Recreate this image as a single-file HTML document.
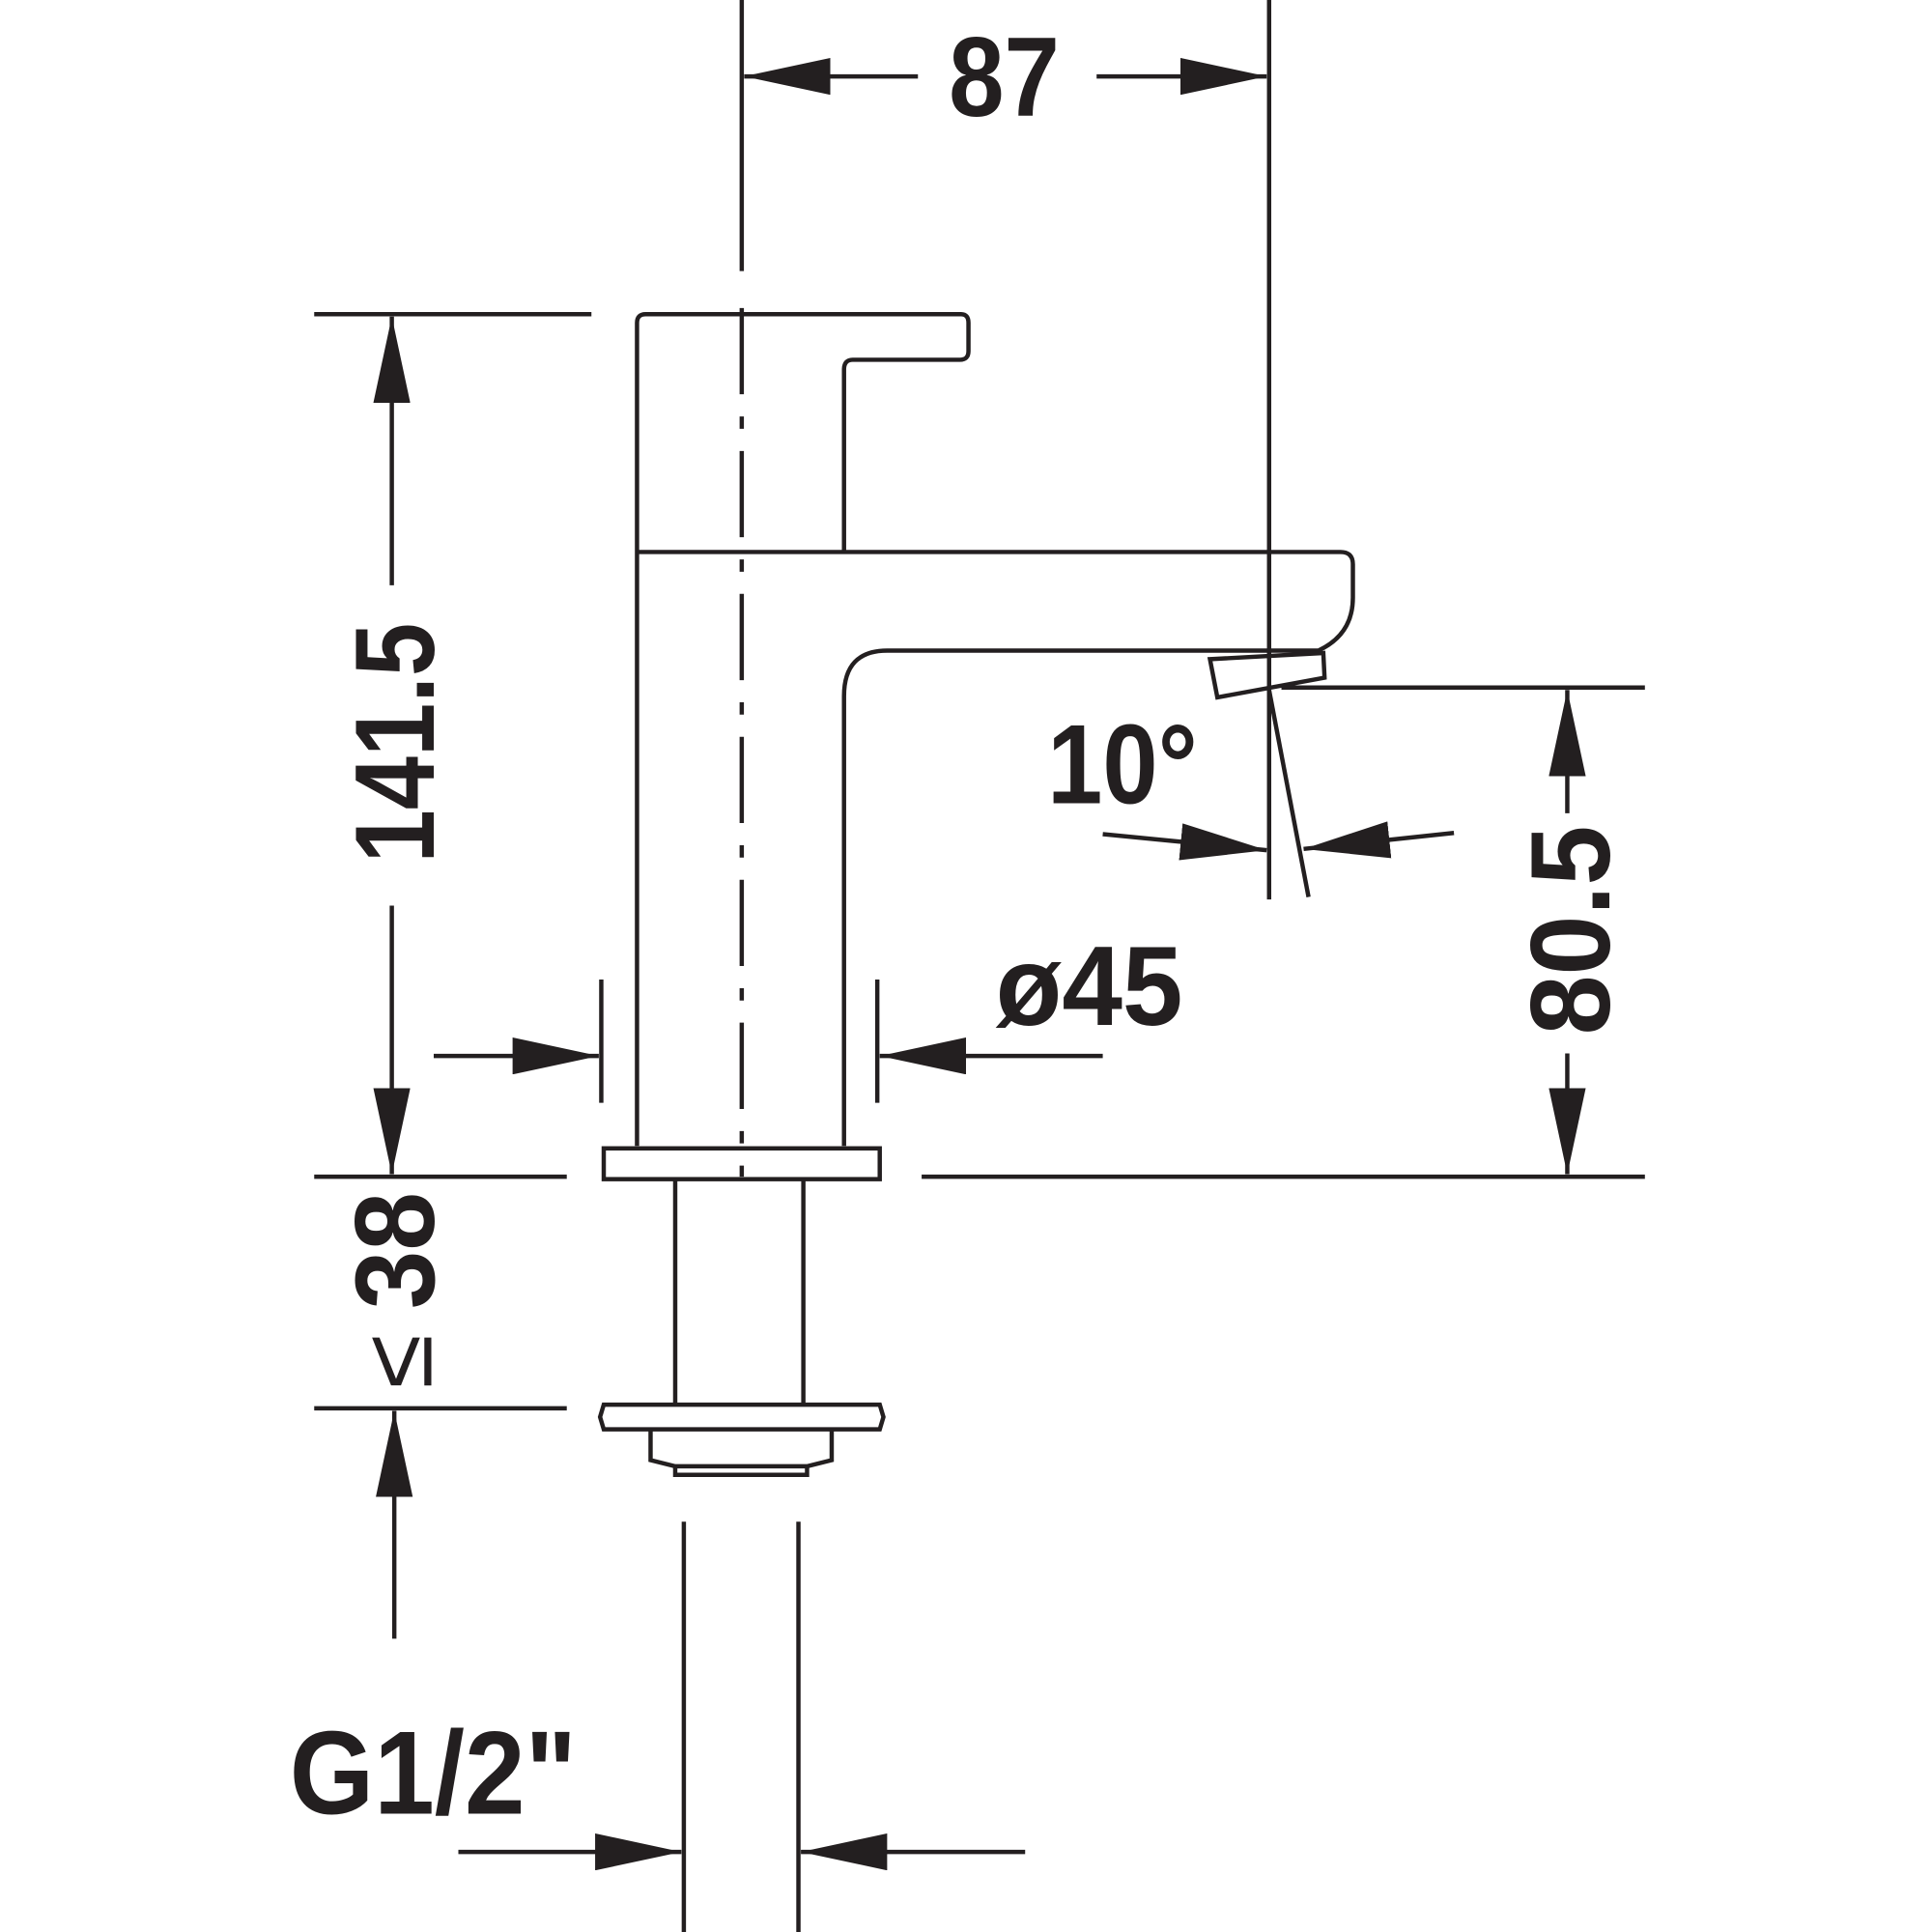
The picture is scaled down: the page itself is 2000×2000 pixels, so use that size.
<!DOCTYPE html>
<html><head><meta charset="utf-8"><style>
html,body{margin:0;padding:0;background:#fff;}
svg{display:block}
text{font-family:"Liberation Sans Narrow","Liberation Sans",sans-serif;font-weight:bold;fill:#231f20}
</style></head><body>
<svg width="2000" height="2000" viewBox="0 0 1568 1568" xmlns="http://www.w3.org/2000/svg">
<defs>
<marker id="a" viewBox="0 0 70 30" refX="70" refY="15" markerWidth="70" markerHeight="30" markerUnits="userSpaceOnUse" orient="auto">
<path d="M0,0 L70,15 L0,30 Z" fill="#231f20"/></marker>
</defs>
<g stroke="#231f20" stroke-width="3.5" fill="none">
<line x1="602" y1="0" x2="602" y2="220"/>
<line x1="602" y1="250" x2="602" y2="955" stroke-dasharray="70,18,10,18"/>
<line x1="1030" y1="0" x2="1030" y2="730"/>
<line x1="745" y1="62" x2="604" y2="62" marker-end="url(#a)"/>
<line x1="890" y1="62" x2="1028" y2="62" marker-end="url(#a)"/>
<path d="M517,930 L517,262 Q517,255 524,255 L780,255 Q786,255 786,262 L786,285 Q786,292 779,292 L692,292 Q685,292 685,300 L685,448"/>
<path d="M517,448 L1088,448 Q1098,448 1098,458 L1098,485 Q1098,515 1070,528 L720,528 Q685,528 685,565 L685,930"/>
<path d="M982,535 L1074,530 L1075,550 L988,566 Z"/>
<rect x="490" y="932" width="224" height="25"/>
<line x1="548" y1="957" x2="548" y2="1140"/>
<line x1="652" y1="957" x2="652" y2="1140"/>
<path d="M490,1140 L714,1140 L717,1150 L714,1160 L490,1160 L487,1150 Z"/>
<path d="M528,1160 L528,1185 L548,1190 L655,1190 L675,1185 L675,1160"/>
<path d="M548,1190 L548,1197 L655,1197 L655,1190"/>
<line x1="555" y1="1235" x2="555" y2="1568"/>
<line x1="648" y1="1235" x2="648" y2="1568"/>
<line x1="255" y1="255" x2="480" y2="255"/>
<line x1="255" y1="955" x2="460" y2="955"/>
<line x1="748" y1="955" x2="1335" y2="955"/>
<line x1="318" y1="475" x2="318" y2="257" marker-end="url(#a)"/>
<line x1="318" y1="735" x2="318" y2="953" marker-end="url(#a)"/>
<line x1="255" y1="1143" x2="460" y2="1143"/>
<line x1="320" y1="1330" x2="320" y2="1145" marker-end="url(#a)"/>
<line x1="488" y1="795" x2="488" y2="895"/>
<line x1="712" y1="795" x2="712" y2="895"/>
<line x1="352" y1="857" x2="486" y2="857" marker-end="url(#a)"/>
<line x1="895" y1="857" x2="714" y2="857" marker-end="url(#a)"/>
<line x1="1040" y1="558" x2="1335" y2="558"/>
<line x1="1272" y1="660" x2="1272" y2="560" marker-end="url(#a)"/>
<line x1="1272" y1="855" x2="1272" y2="953" marker-end="url(#a)"/>
<line x1="1030" y1="560" x2="1062" y2="728"/>
<line x1="895" y1="677" x2="1028" y2="690" marker-end="url(#a)"/>
<line x1="1180" y1="676" x2="1058" y2="689" marker-end="url(#a)"/>
<line x1="372" y1="1503" x2="553" y2="1503" marker-end="url(#a)"/>
<line x1="832" y1="1503" x2="650" y2="1503" marker-end="url(#a)"/>
</g>
<text x="770" y="94" font-size="92" textLength="90" lengthAdjust="spacingAndGlyphs">87</text>
<text transform="translate(352,603) rotate(-90)" font-size="92" text-anchor="middle" textLength="195" lengthAdjust="spacingAndGlyphs">141.5</text>
<text transform="translate(352,1015) rotate(-90)" font-size="92" text-anchor="middle" textLength="95" lengthAdjust="spacingAndGlyphs">38</text>
<text transform="translate(350,1105) rotate(-90)" font-size="80" text-anchor="middle" style="font-weight:normal">≤</text>
<text transform="translate(1306,755) rotate(-90)" font-size="92" text-anchor="middle" textLength="170" lengthAdjust="spacingAndGlyphs">80.5</text>
<text x="808" y="832" font-size="92" textLength="152" lengthAdjust="spacingAndGlyphs">ø45</text>
<text x="850" y="652" font-size="92" textLength="122" lengthAdjust="spacingAndGlyphs">10°</text>
<text x="235" y="1472" font-size="96" textLength="233" lengthAdjust="spacingAndGlyphs">G1/2"</text>
</svg>
</body></html>
